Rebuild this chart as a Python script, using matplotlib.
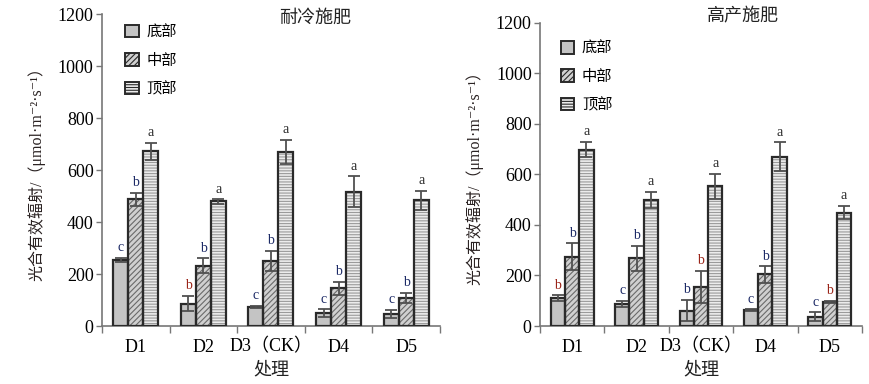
import matplotlib
matplotlib.use("Agg")
import matplotlib.pyplot as plt
from matplotlib.patches import Patch
import numpy as np

plt.rcParams['font.family'] = ['Liberation Serif', 'Noto Sans CJK SC', 'DejaVu Serif']
plt.rcParams['hatch.linewidth'] = 0.8

treatments = ["D1", "D2", "D3（CK）", "D4", "D5"]
parts = ["底部", "中部", "顶部"]

# 耐冷施肥
cold_mean = [[255, 86, 74, 49, 47],
             [487, 231, 250, 145, 109],
             [672, 479, 670, 517, 483]]
cold_err = [[8, 29, 3, 15, 15],
            [26, 29, 38, 25, 19],
            [32, 8, 45, 59, 36]]
cold_letters = [["c", "b", "c", "c", "c"],
                ["b", "b", "b", "b", "b"],
                ["a", "a", "a", "a", "a"]]
cold_red = [[False, True, False, False, False],
            [False, False, False, False, False],
            [False, False, False, False, False]]

# 高产施肥
high_mean = [[109, 88, 61, 63, 36],
             [274, 268, 156, 204, 95],
             [698, 499, 553, 670, 449]]
high_err = [[12, 12, 43, 3, 18],
            [54, 49, 63, 32, 5],
            [30, 31, 50, 57, 26]]
high_letters = [["b", "c", "b", "c", "c"],
                ["b", "b", "b", "b", "b"],
                ["a", "a", "a", "a", "a"]]
high_red = [[True, False, False, False, False],
            [False, False, True, False, True],
            [False, False, False, False, False]]

face = ["#c4c4c4", "#d0d0d0", "#ececec"]
hatch_col = ["#c4c4c4", "#6a6a6a", "#9a9a9a"]
hatches = [None, "//////", "------"]
edge = "#2a2a2a"
ylab = "光合有效辐射/（μmol·m⁻²·s⁻¹）"


def draw_panel(ax, title, title_y, means, errs, letters, reds, legend_pos):
    x = np.arange(len(treatments))
    w = 0.222
    for i in range(3):
        xs = x + (i - 1) * w
        ax.bar(xs, means[i], w, color=face[i], edgecolor=hatch_col[i],
               hatch=hatches[i], linewidth=0, zorder=2)
        ax.bar(xs, means[i], w, fill=False, edgecolor=edge, linewidth=1.6, zorder=3)
        ax.errorbar(xs, means[i], yerr=errs[i], fmt="none", ecolor="#505050",
                    elinewidth=1.3, capsize=4, capthick=1.3, zorder=4)
        for j in range(len(x)):
            col = "#9a2418" if reds[i][j] else ("#2a2a2a" if letters[i][j] == "a" else "#1c2a66")
            ax.text(xs[j], means[i][j] + errs[i][j] + 14, letters[i][j],
                    ha="center", va="bottom", fontsize=10, color=col, zorder=5)

    ax.set_xlim(-0.5, len(treatments) - 0.5)
    ax.set_ylim(0, 1200)
    ax.set_yticks(range(0, 1201, 200))
    ax.set_xticks(np.arange(-0.5, len(treatments), 1.0))
    ax.set_xticklabels([])
    ax.set_xticks(x, minor=True)
    ax.set_xticklabels(treatments, minor=True)
    ax.tick_params(axis="x", which="major", length=5, color="#777777", width=1)
    ax.tick_params(axis="x", which="minor", length=0, labelsize=13, pad=9)
    ax.tick_params(axis="y", length=4, color="#777777", width=1, labelsize=13, pad=2)
    for s in ["top", "right"]:
        ax.spines[s].set_visible(False)
    for s in ["left", "bottom"]:
        ax.spines[s].set_color("#777777")
        ax.spines[s].set_linewidth(1.2)

    ax.set_xlabel("处理", fontsize=13, labelpad=4, color="#222222")
    ax.set_ylabel(ylab, fontsize=11.5, labelpad=9, color="#2a2222")
    ax.text(0.63, title_y, title, transform=ax.transAxes, ha="center", va="center",
            fontsize=13, color="#222222")

    handles = [Patch(facecolor=face[i], edgecolor=edge, hatch=hatches[i], linewidth=1.4)
               for i in range(3)]
    ax.legend(handles, parts, loc="upper left", bbox_to_anchor=legend_pos,
              frameon=False, fontsize=11, handlelength=0.9, handleheight=0.9,
              handletextpad=0.5, labelspacing=0.9, borderaxespad=0)


fig = plt.figure(figsize=(8.7, 3.84), dpi=100)
ax1 = fig.add_axes([0.1172, 0.151, 0.3885, 0.8125])
ax2 = fig.add_axes([0.6207, 0.151, 0.370, 0.790])

draw_panel(ax1, "耐冷施肥", 0.985, cold_mean, cold_err, cold_letters, cold_red, (0.05, 0.985))
draw_panel(ax2, "高产施肥", 1.02, high_mean, high_err, high_letters, high_red, (0.045, 0.96))

fig.savefig("out.png", dpi=100)
